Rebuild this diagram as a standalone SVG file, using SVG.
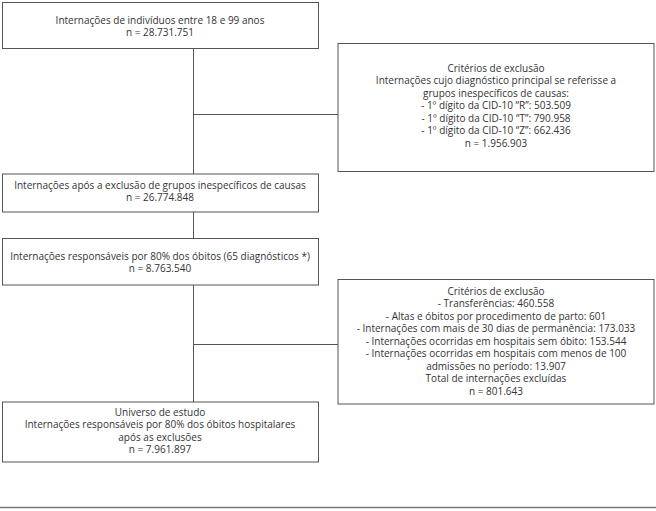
<svg xmlns="http://www.w3.org/2000/svg" width="656" height="511" viewBox="0 0 656 511">
<style>
.box{fill:#fff;stroke:#555;stroke-width:1}
.t{font-family:"Open Sans","Noto Sans",sans-serif;font-size:10px;fill:#333;text-anchor:middle}
.c{stroke:#555;stroke-width:1;fill:none}
</style>
<rect width="656" height="511" fill="#fff"/>
<g id="connectors">
<path class="c" d="M193.5 49V174M193.5 114.5H338M193.5 212V238M193.5 285V402M193.5 344.5H338"/>
</g>
<g id="n1">
<rect class="box" x="2.5" y="2.5" width="316" height="46"/>
<text class="t" x="160" y="23.5">Internações de indivíduos entre 18 e 99 anos</text>
<text class="t" x="160" y="36">n = 28.731.751</text>
</g>
<g id="n2">
<rect class="box" x="338" y="43.5" width="316" height="128"/>
<text class="t" x="496" y="71.5">Critérios de exclusão</text>
<text class="t" x="496" y="84">Internações cujo diagnóstico principal se referisse a</text>
<text class="t" x="496" y="96.5">grupos inespecíficos de causas:</text>
<text class="t" x="496" y="109">- 1º dígito da CID-10 “R”: 503.509</text>
<text class="t" x="496" y="121.5">- 1º dígito da CID-10 “T”: 790.958</text>
<text class="t" x="496" y="134">- 1º dígito da CID-10 “Z”: 662.436</text>
<text class="t" x="496" y="146.5">n = 1.956.903</text>
</g>
<g id="n3">
<rect class="box" x="2.5" y="174" width="316" height="38"/>
<text class="t" x="160" y="188.5">Internações após a exclusão de grupos inespecíficos de causas</text>
<text class="t" x="160" y="201">n = 26.774.848</text>
</g>
<g id="n4">
<rect class="box" x="2.5" y="238.5" width="316" height="46.5"/>
<text class="t" x="160" y="259.5">Internações responsáveis por 80% dos óbitos (65 diagnósticos *)</text>
<text class="t" x="160" y="272">n = 8.763.540</text>
</g>
<g id="n5">
<rect class="box" x="338" y="279.5" width="316" height="124.5"/>
<text class="t" x="496" y="294.5">Critérios de exclusão</text>
<text class="t" x="496" y="307">- Transferências: 460.558</text>
<text class="t" x="496" y="319.5">- Altas e óbitos por procedimento de parto: 601</text>
<text class="t" x="496" y="332">- Internações com mais de 30 dias de permanência: 173.033</text>
<text class="t" x="496" y="344.5">- Internações ocorridas em hospitais sem óbito: 153.544</text>
<text class="t" x="496" y="357">- Internações ocorridas em hospitais com menos de 100</text>
<text class="t" x="496" y="369.5">admissões no período: 13.907</text>
<text class="t" x="496" y="382">Total de internações excluídas</text>
<text class="t" x="496" y="394.5">n = 801.643</text>
</g>
<g id="n6">
<rect class="box" x="2.5" y="402" width="316" height="60"/>
<text class="t" x="160" y="415.5">Universo de estudo</text>
<text class="t" x="160" y="428">Internações responsáveis por 80% dos óbitos hospitalares</text>
<text class="t" x="160" y="440.5">após as exclusões</text>
<text class="t" x="160" y="453">n = 7.961.897</text>
</g>
<line x1="0" y1="507.5" x2="656" y2="507.5" stroke="#777" stroke-width="1.5"/>
</svg>
